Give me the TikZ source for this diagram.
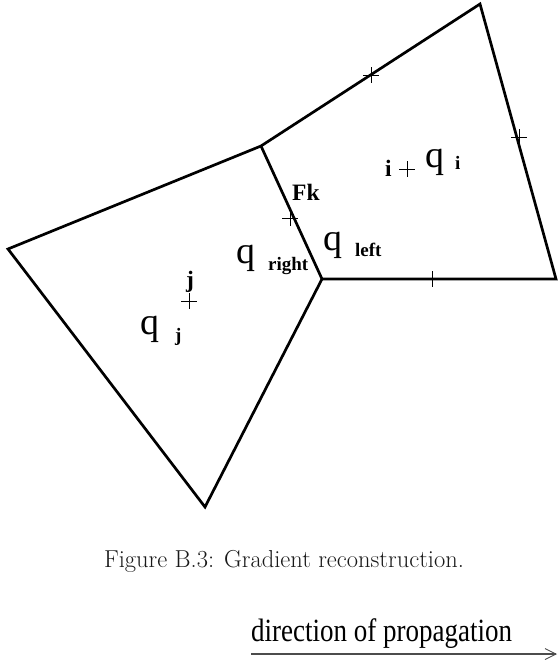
\documentclass[tikz,border=0pt]{standalone}
\usepackage{fontspec}
\usepackage{graphicx}
\newfontfamily\timesfont{Liberation Serif}
\usetikzlibrary{arrows.meta, shapes.misc}

\begin{document}
\begin{tikzpicture}[
        x=1pt, y=-1pt,
        edge/.style={line width=2.7pt, line join=miter},
        plusmark/.style={draw, cross out, rotate=45, minimum size=10.5pt, inner sep=0pt, line width=0.7pt},
        qlabel/.style={anchor=base west, inner sep=0pt, font=\timesfont\fontsize{38}{38}\selectfont},
        sublabel/.style={anchor=base west, inner sep=0pt, font=\timesfont\bfseries\fontsize{19}{19}\selectfont},
        ptlabel/.style={anchor=base west, inner sep=0pt, font=\timesfont\bfseries\fontsize{23.5}{24}\selectfont}
    ]
        \useasboundingbox (0, 0) rectangle (558, 667);

        % Cell corners
        \coordinate (vl) at (8, 249);
        \coordinate (vt) at (261, 146);
        \coordinate (vc) at (322, 279);
        \coordinate (vb) at (205, 507);
        \coordinate (vtr) at (480, 4);
        \coordinate (vr) at (556, 279);

        % Cell edges
        \draw[edge] (vl) -- (vt) -- (vtr) -- (vr) -- (vc) -- (vb) -- cycle;
        \draw[edge] (vt) -- (vc);

        % Face midpoints and cell centres
        \node[plusmark] (m1) at (371, 75) {};
        \node[plusmark] (m2) at (519, 137) {};
        \node[plusmark] (m3) at (432, 279) {};
        \node[plusmark] (fk) at (290, 218) {};
        \node[plusmark] (ci) at (407, 169) {};
        \node[plusmark] (cj) at (189, 301) {};

        % Labels
        \node[ptlabel] (lfk) at (292, 200) {Fk};
        \node[ptlabel] (li) at (385, 176) {i};
        \node[ptlabel] (lj) at (186, 287) {j};

        \node[qlabel] (qi) at (425, 167) {q};
        \node[sublabel] (qis) at (455, 169) {i};
        \node[qlabel] (ql) at (323, 250) {q};
        \node[sublabel] (qls) at (355, 256) {left};
        \node[qlabel] (qr) at (236, 263) {q};
        \node[sublabel] (qrs) at (268, 270) {right};
        \node[qlabel] (qj) at (140, 334) {q};
        \node[sublabel] (qjs) at (175, 341) {j};

        % Caption
        \node[font=\fontsize{24.5}{28}\selectfont, text=black!90] (cap) at (284, 561) {Figure B.3: Gradient reconstruction.};

        % Propagation arrow
        \node[anchor=base west, inner sep=0pt, font=\timesfont\fontsize{27}{30}\selectfont] (dir) at (251, 641) {\scalebox{1}[1.2]{direction of propagation}};
        \coordinate (a0) at (251, 654);
        \coordinate (a1) at (557, 654);
        \draw[line width=1.2pt, black!70, -{Straight Barb[length=11pt, width=11pt, line width=0.9pt]}] (a0) -- (a1);

    \end{tikzpicture}
\end{document}
